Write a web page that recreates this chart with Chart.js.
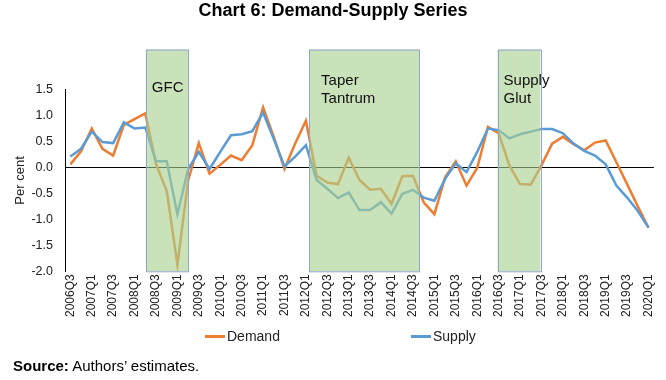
<!DOCTYPE html>
<html>
<head>
<meta charset="utf-8">
<script src="https://cdn.jsdelivr.net/npm/chart.js@4.4.1/dist/chart.umd.min.js"></script>
<style>
  body { margin: 0; background: #fff; }
  #wrap { position: relative; width: 666px; height: 380px; font-family: "Liberation Sans", Arial, sans-serif; }
  #wrap canvas { position: absolute; left: 0; top: 0; }
  .key { position: absolute; top: 327px; font-size: 14px; line-height: 18px; color: #222; }
  .key span { display: inline-block; width: 20px; height: 3px; vertical-align: middle; margin-right: 2px; position: relative; top: -1px; }
  #source { position: absolute; left: 13px; top: 357px; font-size: 15px; color: #000; }
</style>
</head>
<body>
<div id="wrap">
  <canvas id="Chart1" width="666" height="380"></canvas>
  <div class="key" style="left:205px"><span style="background:#ED7D31"></span>Demand</div>
  <div class="key" style="left:411px"><span style="background:#5B9BD5"></span>Supply</div>
  <div id="source"><b>Source:</b> Authors’ estimates.</div>
</div>
<script>
const quarters = [
    "2006Q3", "2006Q4",
    "2007Q1", "2007Q2", "2007Q3", "2007Q4",
    "2008Q1", "2008Q2", "2008Q3", "2008Q4",
    "2009Q1", "2009Q2", "2009Q3", "2009Q4",
    "2010Q1", "2010Q2", "2010Q3", "2010Q4",
    "2011Q1", "2011Q2", "2011Q3", "2011Q4",
    "2012Q1", "2012Q2", "2012Q3", "2012Q4",
    "2013Q1", "2013Q2", "2013Q3", "2013Q4",
    "2014Q1", "2014Q2", "2014Q3", "2014Q4",
    "2015Q1", "2015Q2", "2015Q3", "2015Q4",
    "2016Q1", "2016Q2", "2016Q3", "2016Q4",
    "2017Q1", "2017Q2", "2017Q3", "2017Q4",
    "2018Q1", "2018Q2", "2018Q3", "2018Q4",
    "2019Q1", "2019Q2", "2019Q3", "2019Q4",
    "2020Q1"];

const demand = [
    0.06, 0.31, 0.75, 0.36, 0.23, 0.82, 0.93, 1.04, 0.07, -0.45,
    -1.87, -0.25, 0.47, -0.12, 0.05, 0.23, 0.14, 0.43, 1.16, 0.59,
    -0.03, 0.46, 0.90, -0.16, -0.29, -0.32, 0.19, -0.24, -0.43, -0.41,
    -0.70, -0.17, -0.16, -0.67, -0.90, -0.19, 0.12, -0.35, -0.01, 0.78,
    0.66, 0.04, -0.32, -0.33, 0.04, 0.46, 0.59, 0.45, 0.33, 0.48,
    0.52, 0.10, -0.32, -0.75, -1.16];

const supply = [
    0.21, 0.36, 0.69, 0.49, 0.47, 0.87, 0.75, 0.77, 0.12, 0.12,
    -0.90, -0.03, 0.30, -0.03, 0.30, 0.62, 0.64, 0.70, 1.06, 0.55,
    0.02, 0.21, 0.43, -0.24, -0.41, -0.59, -0.48, -0.82, -0.82, -0.67,
    -0.89, -0.51, -0.43, -0.58, -0.64, -0.22, 0.08, -0.09, 0.30, 0.75,
    0.72, 0.56, 0.64, 0.69, 0.74, 0.74, 0.66, 0.46, 0.32, 0.23,
    0.06, -0.35, -0.58, -0.84, -1.16];

// shaded episodes, given in category units (index of quarter)
const shadeNames = [["GFC"], ["Taper", "Tantrum"], ["Supply", "Glut"]];
const shadeFrom = [7.05, 22.3, 39.9];
const shadeTo = [11.0, 32.6, 43.9];

const shades = {
    id: "shades",
    afterDatasetsDraw(chart) {
        const { ctx, chartArea, scales: { x } } = chart;
        const top = chartArea.top - 40;
        // text offsets inside each box (left, first baseline)
        const textPos = [[6, 42], [12, 35], [6, 35]];
        ctx.save();
        shadeNames.forEach((lines, i) => {
            const x0 = x.getPixelForValue(shadeFrom[i]);
            const x1 = x.getPixelForValue(shadeTo[i]);
            ctx.fillStyle = "rgba(169, 209, 142, 0.62)";
            ctx.fillRect(x0, top, x1 - x0, chartArea.bottom - top);
            ctx.strokeStyle = "#8ea6cc";
            ctx.lineWidth = 1;
            ctx.strokeRect(Math.round(x0) + 0.5, top + 0.5, Math.round(x1 - x0), chartArea.bottom - top);

            ctx.fillStyle = "#111";
            ctx.font = "15px 'Liberation Sans', Arial, sans-serif";
            ctx.textBaseline = "alphabetic";
            ctx.textAlign = "left";
            lines.forEach((t, j) => {
                ctx.fillText(t, x0 + textPos[i][0], top + textPos[i][1] + j * 18);
            });
        });
        ctx.restore();
    }
};

const create_chart = function (ctx) {
    new Chart(ctx, {
        type: "line",
        data: {
            labels: quarters,
            datasets: [{
                label: "Demand",
                data: demand,
                borderColor: "#ED7D31",
                backgroundColor: "#ED7D31",
                borderWidth: 2.5,
                pointRadius: 0,
                tension: 0,
                order: 2,
            }, {
                label: "Supply",
                data: supply,
                borderColor: "#5B9BD5",
                backgroundColor: "#5B9BD5",
                borderWidth: 2.5,
                pointRadius: 0,
                tension: 0,
                order: 1,
            }]
        },
        options: {
            responsive: false,
            animation: false,
            layout: {
                padding: { left: 9, right: 9, top: 0, bottom: 60 }
            },
            plugins: {
                legend: { display: false },
                tooltip: { enabled: false },
                title: {
                    display: true,
                    text: "Chart 6: Demand-Supply Series",
                    color: "#000",
                    font: { family: "'Liberation Sans', Arial, sans-serif", size: 18, weight: "bold" },
                    padding: { top: 0, bottom: 68 },
                },
            },
            scales: {
                x: {
                    offset: true,
                    border: { display: false },
                    grid: { display: false, drawTicks: false },
                    ticks: {
                        autoSkip: false,
                        maxRotation: 90,
                        minRotation: 90,
                        padding: 3,
                        color: "#222",
                        font: { family: "'Liberation Sans', Arial, sans-serif", size: 12 },
                        callback: function (val, i) {
                            return i % 2 === 0 ? quarters[i] : "";
                        },
                    },
                },
                y: {
                    min: -2,
                    max: 1.5,
                    afterFit: (scale) => { scale.width = 56; },
                    border: { display: true, color: "#000", width: 1 },
                    grid: {
                        drawTicks: false,
                        color: (c) => (c.tick && c.tick.value === 0 ? "#000" : "rgba(0,0,0,0)"),
                        lineWidth: 1,
                    },
                    ticks: {
                        stepSize: 0.5,
                        padding: 12,
                        color: "#222",
                        font: { family: "'Liberation Sans', Arial, sans-serif", size: 12.5 },
                        callback: (v) => v.toFixed(1),
                    },
                    title: {
                        display: true,
                        text: "Per cent",
                        color: "#222",
                        padding: 4,
                        font: { family: "'Liberation Sans', Arial, sans-serif", size: 13 },
                    },
                },
            },
        },
        plugins: [shades],
    });
};

create_chart(document.getElementById("Chart1").getContext("2d"));
</script>
</body>
</html>
